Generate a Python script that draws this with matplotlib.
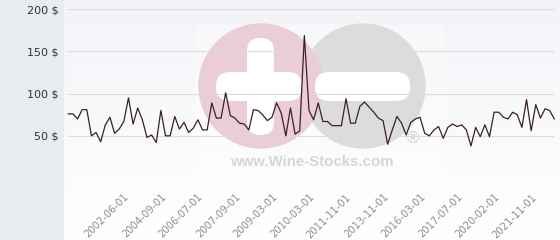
import numpy as np
import matplotlib
matplotlib.use('Agg')
import matplotlib.pyplot as plt
from matplotlib.patches import Circle, FancyBboxPatch, Rectangle

# price per month, category axis
prices = [76, 76, 70, 81, 81, 50, 54, 43, 63, 72, 53, 58, 67, 95, 64, 83, 69, 48, 51, 42,
          80, 50, 50, 73, 58, 66, 54, 59, 69, 57, 57, 89, 71, 71, 101, 74, 71, 65, 64, 57,
          81, 80, 75, 68, 72, 89, 77, 50, 83, 52, 56, 169, 80, 69, 89, 67, 67, 62, 62, 62,
          94, 65, 65, 85, 90, 84, 78, 71, 68, 40, 57, 73, 65, 51, 66, 70, 72, 53, 50, 57,
          61, 47, 60, 64, 61, 63, 57, 38, 60, 49, 63, 49, 78, 78, 72, 70, 78, 75, 60, 93,
          56, 87, 71, 82, 80, 70]
date_labels = ['2002-06-01', '2004-09-01', '2006-07-01', '2007-09-01', '2009-03-01', '2010-03-01',
               '2011-11-01', '2013-11-01', '2016-03-01', '2017-07-01', '2020-02-01', '2021-11-01']
first_label = 12
label_step = 8
y_ticks = [0, 50, 100, 150, 200]
y_labels = ['', '50 $', '100 $', '150 $', '200 $']

W, H = 560, 240
fig = plt.figure(figsize=(5.6, 2.4), dpi=100)

# background layer in pixel units (panel, gradient, watermark)
bg = fig.add_axes([0, 0, 1, 1], zorder=0)
bg.set_xlim(0, W)
bg.set_ylim(H, 0)
bg.axis('off')
t = np.linspace(0, 1, 100)[:, None, None]
top = np.array([243, 244, 248]) / 255
bot = np.array([255, 255, 255]) / 255
bg.imshow(top + (bot - top) * t * np.ones((1, 2, 1)), extent=[63, W, H, 0], aspect='auto', zorder=0)
bg.add_patch(Rectangle((0, 0), 63.3, H, color='#e8ecef', zorder=1))

# watermark
bg.add_patch(FancyBboxPatch((195, 25), 250, 150, boxstyle='round,pad=0,rounding_size=6',
                            fc='white', ec='none', alpha=0.3, zorder=1))
bg.add_patch(Circle((363, 86), 62, color='#dcdcdc', zorder=2))
bg.add_patch(Circle((261, 86), 62, color='#eacdd5', zorder=3))
bg.add_patch(FancyBboxPatch((216, 72), 86, 29, boxstyle='round,pad=0,rounding_size=14',
                            fc='white', ec='none', zorder=4))
bg.add_patch(FancyBboxPatch((247, 38), 27, 97, boxstyle='round,pad=0,rounding_size=13',
                            fc='white', ec='none', zorder=4))
bg.add_patch(FancyBboxPatch((315, 72), 95, 29, boxstyle='round,pad=0,rounding_size=14',
                            fc='white', ec='none', zorder=4))
bg.text(312, 162, 'www.Wine-Stocks.com', family='Liberation Sans', weight='bold', fontsize=10.8,
        color='#d6d6d6', ha='center', va='center', zorder=5)
bg.text(413, 139, '\u00ae', family='Liberation Sans', fontsize=12, color='#d2d2d2',
        ha='center', va='center', zorder=5)

# chart
ax = fig.add_axes([68.3 / W, 62 / H, (554.3 - 68.3) / W, (230.7 - 62) / H], zorder=2)
ax.patch.set_alpha(0)
x = np.arange(len(prices))
ax.plot(x, prices, color='#3a1f2d', lw=0.9, clip_on=False, zorder=3)
ax.set_xlim(0, len(prices) - 1)
ax.set_ylim(0, 200)
ax.set_yticks(y_ticks, y_labels, fontsize=8, color='#333333')
ax.set_xticks(np.arange(len(date_labels)) * label_step + first_label, date_labels, rotation=45,
              ha='right', rotation_mode='anchor', fontsize=7.2, color='#8c8c8c')
ax.grid(axis='y', color='#dcdcdc', lw=0.8)
ax.set_axisbelow(True)
for s in ax.spines.values():
    s.set_visible(False)
ax.tick_params(length=0)
ax.tick_params(axis='y', pad=6.7)
ax.tick_params(axis='x', pad=10)

fig.savefig('out.png', dpi=100)
